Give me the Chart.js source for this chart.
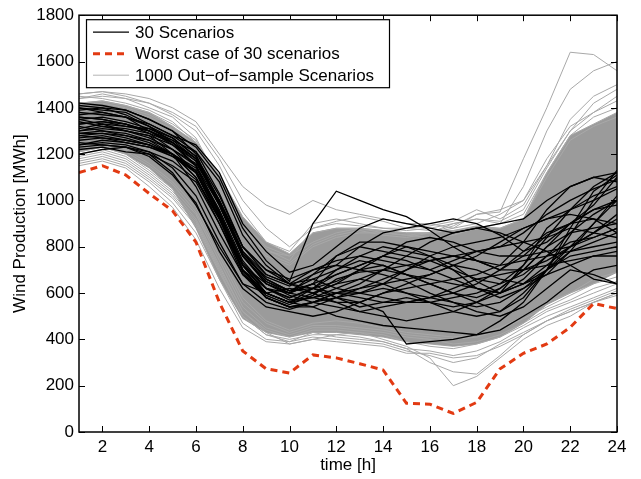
<!DOCTYPE html>
<html lang="en">
<head>
<meta charset="UTF-8">
<title>Wind Production Scenarios</title>
<script src="https://cdn.jsdelivr.net/npm/chart.js"></script>
<style>
  body { margin: 0; background: #fff; }
  #wrap { width: 641px; height: 479px; }
</style>
</head>
<body>
<div id="wrap"><canvas id="windChart" width="641" height="479"></canvas></div>

<script>
const hours = [1,2,3,4,5,6,7,8,9,10,11,12,13,14,15,16,17,18,19,20,21,22,23,24];
const xTicks = [2,4,6,8,10,12,14,16,18,20,22,24];
const yTicks = [0,200,400,600,800,1000,1200,1400,1600,1800];

const worstCase = [1120,1150,1110,1030,955,820,560,350,273,255,333,320,295,268,124,120,80,128,273,340,380,452,555,533];

// dense part of the 1000 out-of-sample scenarios
const bandUpper = [1420,1430,1410,1380,1320,1250,1110,930,820,770,860,880,880,870,860,860,870,890,880,920,1120,1280,1330,1380];
const bandLower = [1210,1230,1200,1140,1050,880,660,490,430,410,430,430,420,410,390,380,370,380,410,470,550,600,640,690];

// individual out-of-sample scenarios near the edges
const outOfSample = [
  [1440,1460,1440,1400,1360,1270,1080,900,800,760,860,880,880,860,850,860,880,940,950,1180,1400,1640,1630,1560],
  [1460,1470,1450,1420,1370,1300,1150,950,820,780,900,920,900,880,880,870,870,880,900,1060,1300,1480,1560,1600],
  [1420,1430,1410,1380,1330,1260,1080,880,790,740,880,910,930,910,880,890,910,960,920,980,1150,1350,1450,1500],
  [1450,1440,1420,1390,1340,1250,1050,860,780,760,820,860,880,870,860,860,890,940,960,1000,1180,1320,1380,1450],
  [1410,1420,1400,1370,1320,1230,1040,860,760,720,800,840,860,860,850,840,850,880,880,920,1100,1260,1320,1360],
  [1380,1400,1390,1360,1310,1240,1060,880,770,730,810,850,870,850,840,860,900,920,900,940,1120,1280,1360,1400],
  [1460,1470,1460,1440,1400,1340,1200,1060,980,940,1000,960,940,920,900,900,880,900,940,1000,1150,1300,1420,1480],
  [1170,1190,1160,1090,1010,890,690,500,420,400,420,420,410,390,360,350,330,350,390,450,500,540,580,620],
  [1180,1200,1170,1100,1020,900,700,500,420,390,430,410,400,390,360,300,260,250,330,420,480,520,560,600],
  [1190,1210,1180,1110,1030,910,710,520,430,380,400,420,430,400,370,320,200,240,320,400,460,500,560,600],
  [1200,1220,1190,1120,1040,920,720,520,440,410,440,440,430,420,390,370,360,380,410,460,520,560,600,640],
  [1210,1230,1200,1130,1050,940,740,540,450,420,450,450,440,430,410,400,380,390,420,470,530,570,620,650],
  [1220,1240,1210,1150,1070,950,760,560,470,430,460,460,450,440,420,410,400,410,440,490,540,590,640,670],
  [1160,1180,1150,1080,990,860,660,470,400,390,410,400,390,380,350,330,300,320,380,430,480,530,570,610],
  [1230,1250,1220,1160,1080,970,780,580,480,440,470,480,470,450,430,420,410,420,450,500,560,600,660,690],
  [1440,1450,1440,1420,1380,1320,1180,1000,880,800,880,900,890,880,870,880,900,920,910,960,1140,1300,1380,1430],
  [1150,1170,1140,1060,970,830,620,450,390,380,400,390,380,370,340,340,320,330,370,420,480,520,560,590]
];

// the 30 scenarios
const scenarios = [
  [1420,1410,1390,1350,1300,1230,1100,880,740,650,900,1040,1000,960,930,870,800,740,700,760,850,900,960,1000],
  [1380,1370,1360,1300,1240,1150,950,700,600,560,620,650,700,720,680,640,600,560,520,600,700,800,900,1020],
  [1350,1330,1300,1280,1200,1100,900,700,620,600,640,580,560,520,380,390,400,420,480,560,700,850,1000,1130],
  [1300,1320,1310,1290,1250,1180,1000,780,680,640,700,740,760,800,780,760,720,650,600,720,880,960,1000,1050],
  [1280,1290,1270,1240,1200,1100,920,720,640,600,680,720,800,860,880,900,920,900,850,780,820,900,980,1100],
  [1250,1240,1230,1200,1120,980,800,640,600,620,600,560,520,500,480,500,520,560,620,700,800,860,880,900],
  [1220,1230,1210,1200,1150,1080,900,680,580,540,560,600,640,700,760,820,860,880,860,820,780,720,660,640],
  [1400,1390,1380,1330,1280,1240,1120,900,780,690,720,800,880,920,900,880,860,880,900,920,1000,1060,1100,1120],
  [1330,1340,1320,1310,1260,1180,980,760,640,590,560,540,520,540,560,580,600,640,700,780,860,900,920,860],
  [1360,1350,1330,1290,1220,1120,930,720,620,580,620,680,720,760,740,700,660,620,600,640,700,760,780,800],
  [1290,1300,1290,1260,1200,1060,860,680,600,560,540,500,480,460,450,440,430,420,440,500,560,640,700,720],
  [1410,1400,1370,1320,1250,1150,940,720,600,560,600,640,660,640,600,560,520,500,520,580,700,880,1040,1110],
  [1240,1260,1250,1230,1200,1140,960,740,620,580,620,700,760,740,720,700,740,780,800,820,840,880,860,840],
  [1320,1300,1280,1260,1220,1160,1000,800,680,640,660,620,600,640,700,760,800,820,840,880,920,960,1020,1060],
  [1200,1220,1230,1190,1110,990,780,620,540,520,500,520,560,600,620,640,660,680,720,820,960,1060,1100,1080],
  [1370,1380,1360,1320,1270,1190,1020,800,700,660,700,720,700,680,650,600,560,540,560,620,700,780,820,860],
  [1340,1320,1300,1270,1220,1150,980,760,650,610,640,760,800,780,760,740,700,660,640,680,760,820,840,880],
  [1260,1270,1260,1240,1200,1130,950,730,620,570,580,600,620,660,700,740,760,740,700,700,740,800,860,940],
  [1310,1330,1320,1300,1260,1210,1080,850,720,640,600,640,700,760,820,840,820,780,760,760,780,800,840,880],
  [1390,1400,1390,1350,1300,1200,980,760,640,600,640,680,720,760,800,760,700,620,580,620,680,780,900,1000],
  [1280,1270,1250,1230,1190,1130,940,720,600,560,580,620,660,700,720,740,760,780,800,860,940,1000,1050,1090],
  [1230,1240,1230,1210,1170,1090,920,700,590,550,590,660,690,700,680,660,640,620,600,640,720,800,860,920],
  [1350,1360,1340,1310,1270,1190,1000,770,660,610,620,580,540,560,580,560,540,560,600,660,760,860,940,1000],
  [1300,1310,1300,1280,1240,1170,1000,780,660,610,660,700,740,720,680,640,600,580,620,700,800,900,960,980],
  [1270,1280,1260,1240,1190,1120,930,700,580,540,540,580,620,640,660,680,720,760,820,880,920,940,920,900],
  [1400,1380,1360,1330,1280,1210,1030,800,700,640,620,600,580,560,560,580,620,660,680,700,720,740,760,780],
  [1240,1250,1240,1210,1140,1020,820,640,560,530,560,600,600,580,560,560,580,600,640,720,840,960,1060,1120],
  [1330,1340,1330,1300,1250,1180,990,770,670,630,680,760,820,820,800,780,760,740,720,740,760,780,800,820],
  [1360,1350,1330,1300,1250,1170,980,760,650,600,580,560,560,600,640,680,720,700,660,640,680,720,760,760],
  [1290,1290,1280,1250,1200,1120,920,690,580,540,560,580,600,620,600,580,560,520,500,540,620,700,680,640]
];

const legendItems = [
  { text: '30 Scenarios', color: '#000000', width: 1.3, dash: [] },
  { text: 'Worst case of 30 scenarios', color: '#e23a12', width: 3, dash: [7, 5] },
  { text: '1000 Out\u2212of\u2212sample Scenarios', color: '#b4b4b4', width: 1, dash: [] }
];

const FONT = "'Liberation Sans', Arial, sans-serif";
const toPts = arr => arr.map((v, i) => ({ x: hours[i], y: v }));

const datasets = [];
datasets.push({ data: toPts(worstCase), borderColor: '#e23a12', borderWidth: 3, borderDash: [7, 5], order: 0 });
scenarios.forEach(s => datasets.push({ data: toPts(s), borderColor: '#000000', borderWidth: 1.3, order: 1 }));
outOfSample.forEach(s => datasets.push({ data: toPts(s), borderColor: '#a8a8a8', borderWidth: 1, order: 2 }));
datasets.push({ data: toPts(bandUpper), borderColor: '#a8a8a8', borderWidth: 1, order: 3, fill: '+1', backgroundColor: '#9b9b9b' });
datasets.push({ data: toPts(bandLower), borderColor: '#a8a8a8', borderWidth: 1, order: 3 });

// MATLAB style frame, inward ticks and legend box
const framePlugin = {
  id: 'frame',
  afterDraw(chart) {
    const ctx = chart.ctx;
    const { left, right, top, bottom } = chart.chartArea;
    const xs = chart.scales.x, ys = chart.scales.y;
    ctx.save();
    ctx.strokeStyle = '#000';
    ctx.lineWidth = 1;
    ctx.beginPath();
    xTicks.forEach(v => {
      const px = Math.round(xs.getPixelForValue(v)) + 0.5;
      ctx.moveTo(px, bottom); ctx.lineTo(px, bottom - 6);
      ctx.moveTo(px, top); ctx.lineTo(px, top + 6);
    });
    yTicks.forEach(v => {
      const py = Math.round(ys.getPixelForValue(v)) + 0.5;
      ctx.moveTo(left, py); ctx.lineTo(left + 6, py);
      ctx.moveTo(right, py); ctx.lineTo(right - 6, py);
    });
    ctx.stroke();
    ctx.lineWidth = 1.5;
    ctx.strokeRect(left, top, right - left, bottom - top);

    // legend
    const bx = left + 7, by = top + 4, bw = 303, bh = 68;
    ctx.fillStyle = '#fff';
    ctx.fillRect(bx, by, bw, bh);
    ctx.lineWidth = 1.2;
    ctx.strokeRect(bx + 0.5, by + 0.5, bw, bh);
    ctx.font = '17px ' + FONT;
    ctx.textBaseline = 'middle';
    legendItems.forEach((it, i) => {
      const cy = by + 13 + i * 21.5;
      ctx.beginPath();
      ctx.strokeStyle = it.color;
      ctx.lineWidth = it.width;
      ctx.setLineDash(it.dash);
      ctx.moveTo(bx + 7, cy); ctx.lineTo(bx + 43, cy);
      ctx.stroke();
      ctx.setLineDash([]);
      ctx.fillStyle = '#000';
      ctx.fillText(it.text, bx + 49, cy + 1);
    });
    ctx.restore();
  }
};

new Chart(document.getElementById('windChart'), {
  type: 'line',
  data: { datasets: datasets },
  options: {
    responsive: false,
    animation: false,
    events: [],
    layout: { padding: { top: 10, right: 24, left: 0, bottom: 0 } },
    elements: { point: { radius: 0 }, line: { tension: 0, fill: false } },
    plugins: { legend: { display: false }, tooltip: { enabled: false } },
    scales: {
      x: {
        type: 'linear', min: 1, max: 24,
        grid: { display: false, drawTicks: false }, border: { display: false },
        afterBuildTicks: s => { s.ticks = xTicks.map(v => ({ value: v })); },
        afterFit: s => { s.height = 47; },
        ticks: { color: '#000', font: { size: 17, family: FONT }, padding: 5, maxRotation: 0, autoSkip: false, callback: v => String(v) },
        title: { display: true, text: 'time [h]', color: '#000', font: { size: 17, family: FONT }, padding: { top: 0, bottom: 3 } }
      },
      y: {
        min: 0, max: 1800,
        grid: { display: false, drawTicks: false }, border: { display: false },
        afterBuildTicks: s => { s.ticks = yTicks.map(v => ({ value: v })); },
        afterFit: s => { s.width = 79; },
        ticks: { color: '#000', font: { size: 17, family: FONT }, padding: 5, callback: v => String(v) },
        title: { display: true, text: 'Wind Production [MWh]', color: '#000', font: { size: 17, family: FONT }, padding: { top: 10, bottom: 0 } }
      }
    }
  },
  plugins: [framePlugin]
});
</script>
</body>
</html>
